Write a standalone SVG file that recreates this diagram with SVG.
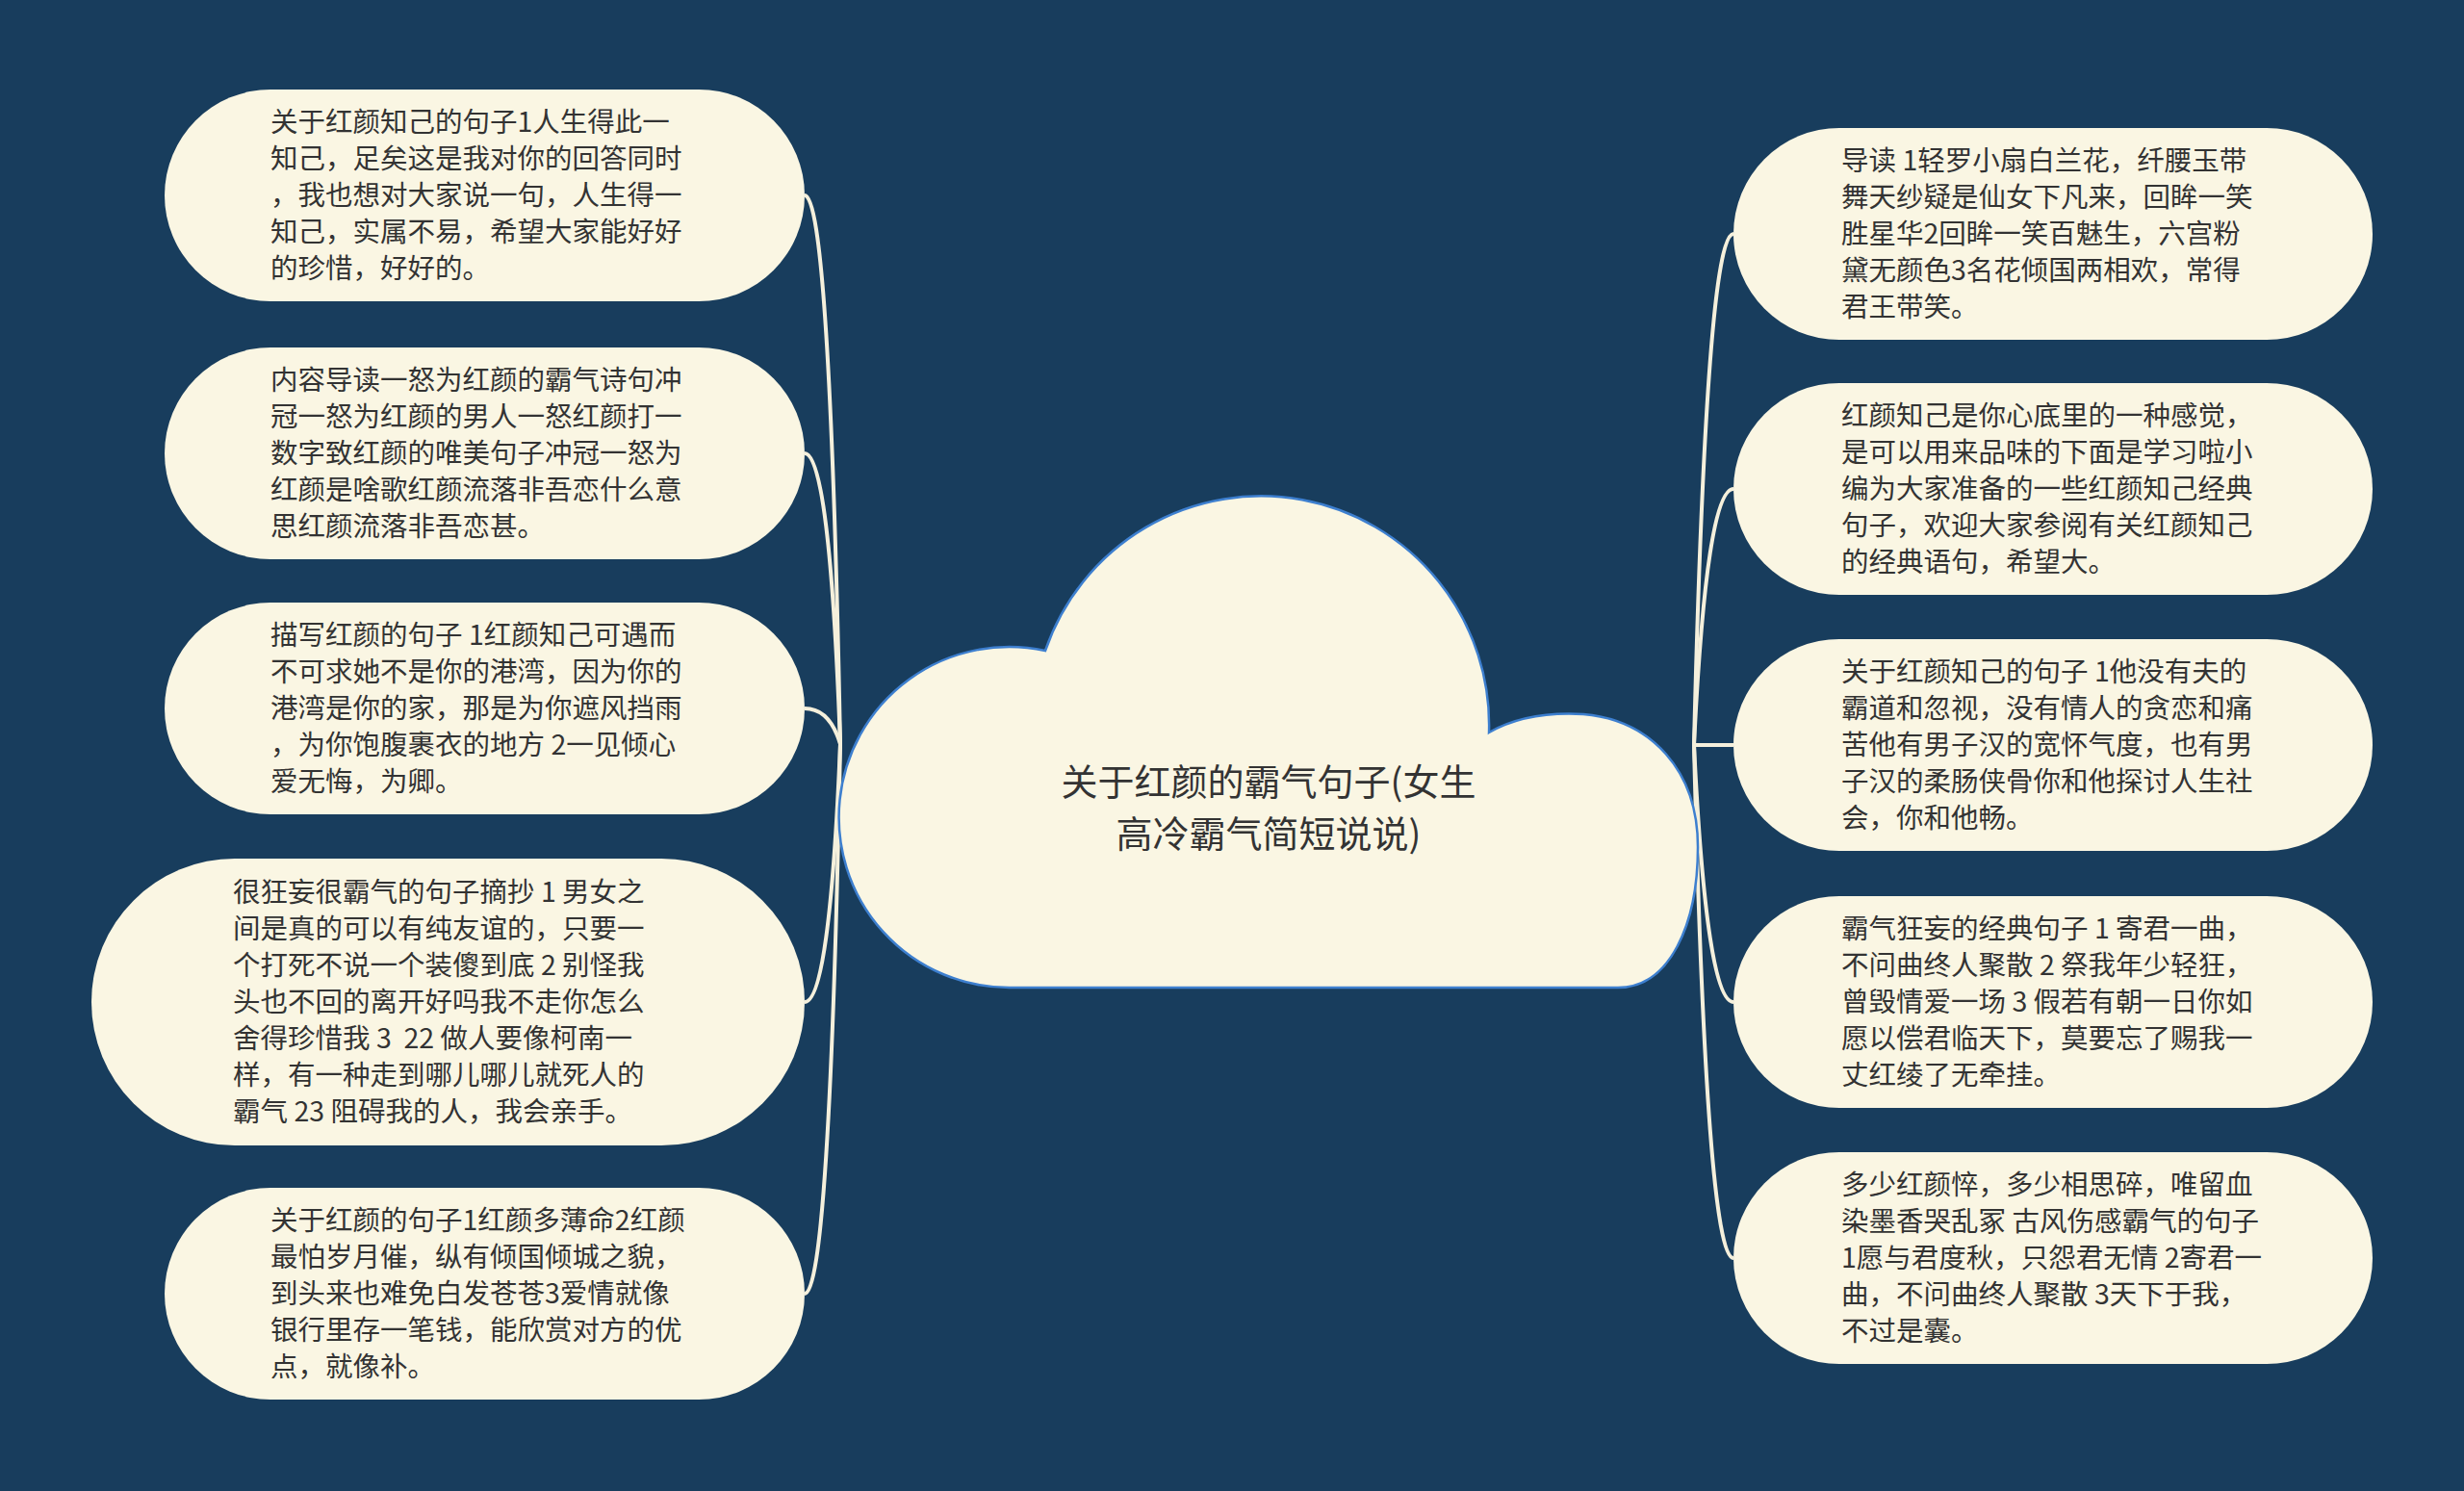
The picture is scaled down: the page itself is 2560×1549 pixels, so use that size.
<svg xmlns="http://www.w3.org/2000/svg" width="2560" height="1549" viewBox="0 0 2560 1549">
<style>
.bg{fill:#183d5d}
.bub{fill:#faf6e3}
.t{font-family:"Noto Sans CJK SC","Noto Sans",sans-serif;font-size:28.5px;fill:#333333;white-space:pre}
.ct{font-family:"Noto Sans CJK SC","Noto Sans",sans-serif;font-size:38px;fill:#333333;text-anchor:middle}
.cn{fill:none;stroke:#f5f0dc;stroke-width:4}
.cloud{fill:#faf6e3;stroke:#3d7fcf;stroke-width:2.5}
</style>
<rect class="bg" x="0" y="0" width="2560" height="1549"/>
<g id="connectors">
<path class="cn" d="M873,773 Q862,203 836,203"/>
<path class="cn" d="M873,773 Q862,471 836,471"/>
<path class="cn" d="M873,773 Q862,736 836,736"/>
<path class="cn" d="M873,773 Q862,1041 836,1041"/>
<path class="cn" d="M873,773 Q862,1344 836,1344"/>
<path class="cn" d="M1760,774 Q1773,243 1801,243"/>
<path class="cn" d="M1760,774 Q1773,508 1801,508"/>
<path class="cn" d="M1760,774 L1801,774"/>
<path class="cn" d="M1760,774 Q1773,1041 1801,1041"/>
<path class="cn" d="M1760,774 Q1773,1307 1801,1307"/>
</g>
<g id="root">
<path class="cloud" d="M1050,1026 A177 177 0 1 1 1086,676 A237 238 0 0 1 1547,761 C1575,745 1610,740 1645,742 C1715,748 1764,800 1764,880 C1764,960 1735,1026 1681,1026 Z"/>
<text class="ct" x="1318" y="826">关于红颜的霸气句子(女生</text>
<text class="ct" x="1318" y="880">高冷霸气简短说说)</text>
</g>
<g id="L1">
<rect class="bub" x="171" y="93" width="665" height="220" rx="110"/>
<text class="t" x="281" y="137">关于红颜知己的句子1人生得此一</text>
<text class="t" x="281" y="175">知己，足矣这是我对你的回答同时</text>
<text class="t" x="281" y="213">，我也想对大家说一句，人生得一</text>
<text class="t" x="281" y="251">知己，实属不易，希望大家能好好</text>
<text class="t" x="281" y="289">的珍惜，好好的。</text>
</g>
<g id="L2">
<rect class="bub" x="171" y="361" width="665" height="220" rx="110"/>
<text class="t" x="281" y="405">内容导读一怒为红颜的霸气诗句冲</text>
<text class="t" x="281" y="443">冠一怒为红颜的男人一怒红颜打一</text>
<text class="t" x="281" y="481">数字致红颜的唯美句子冲冠一怒为</text>
<text class="t" x="281" y="519">红颜是啥歌红颜流落非吾恋什么意</text>
<text class="t" x="281" y="557">思红颜流落非吾恋甚。</text>
</g>
<g id="L3">
<rect class="bub" x="171" y="626" width="665" height="220" rx="110"/>
<text class="t" x="281" y="670">描写红颜的句子 1红颜知己可遇而</text>
<text class="t" x="281" y="708">不可求她不是你的港湾，因为你的</text>
<text class="t" x="281" y="746">港湾是你的家，那是为你遮风挡雨</text>
<text class="t" x="281" y="784">，为你饱腹裹衣的地方 2一见倾心</text>
<text class="t" x="281" y="822">爱无悔，为卿。</text>
</g>
<g id="L4">
<rect class="bub" x="95" y="892" width="741" height="298" rx="149"/>
<text class="t" x="242" y="937">很狂妄很霸气的句子摘抄 1 男女之</text>
<text class="t" x="242" y="975">间是真的可以有纯友谊的，只要一</text>
<text class="t" x="242" y="1013">个打死不说一个装傻到底 2 别怪我</text>
<text class="t" x="242" y="1051">头也不回的离开好吗我不走你怎么</text>
<text class="t" x="242" y="1089">舍得珍惜我 3  22 做人要像柯南一</text>
<text class="t" x="242" y="1127">样，有一种走到哪儿哪儿就死人的</text>
<text class="t" x="242" y="1165">霸气 23 阻碍我的人，我会亲手。</text>
</g>
<g id="L5">
<rect class="bub" x="171" y="1234" width="665" height="220" rx="110"/>
<text class="t" x="281" y="1278">关于红颜的句子1红颜多薄命2红颜</text>
<text class="t" x="281" y="1316">最怕岁月催，纵有倾国倾城之貌，</text>
<text class="t" x="281" y="1354">到头来也难免白发苍苍3爱情就像</text>
<text class="t" x="281" y="1392">银行里存一笔钱，能欣赏对方的优</text>
<text class="t" x="281" y="1430">点，就像补。</text>
</g>
<g id="R1">
<rect class="bub" x="1801" y="133" width="664" height="220" rx="110"/>
<text class="t" x="1913" y="177">导读 1轻罗小扇白兰花，纤腰玉带</text>
<text class="t" x="1913" y="215">舞天纱疑是仙女下凡来，回眸一笑</text>
<text class="t" x="1913" y="253">胜星华2回眸一笑百魅生，六宫粉</text>
<text class="t" x="1913" y="291">黛无颜色3名花倾国两相欢，常得</text>
<text class="t" x="1913" y="329">君王带笑。</text>
</g>
<g id="R2">
<rect class="bub" x="1801" y="398" width="664" height="220" rx="110"/>
<text class="t" x="1913" y="442">红颜知己是你心底里的一种感觉，</text>
<text class="t" x="1913" y="480">是可以用来品味的下面是学习啦小</text>
<text class="t" x="1913" y="518">编为大家准备的一些红颜知己经典</text>
<text class="t" x="1913" y="556">句子，欢迎大家参阅有关红颜知己</text>
<text class="t" x="1913" y="594">的经典语句，希望大。</text>
</g>
<g id="R3">
<rect class="bub" x="1801" y="664" width="664" height="220" rx="110"/>
<text class="t" x="1913" y="708">关于红颜知己的句子 1他没有夫的</text>
<text class="t" x="1913" y="746">霸道和忽视，没有情人的贪恋和痛</text>
<text class="t" x="1913" y="784">苦他有男子汉的宽怀气度，也有男</text>
<text class="t" x="1913" y="822">子汉的柔肠侠骨你和他探讨人生社</text>
<text class="t" x="1913" y="860">会，你和他畅。</text>
</g>
<g id="R4">
<rect class="bub" x="1801" y="931" width="664" height="220" rx="110"/>
<text class="t" x="1913" y="975">霸气狂妄的经典句子 1 寄君一曲，</text>
<text class="t" x="1913" y="1013">不问曲终人聚散 2 祭我年少轻狂，</text>
<text class="t" x="1913" y="1051">曾毁情爱一场 3 假若有朝一日你如</text>
<text class="t" x="1913" y="1089">愿以偿君临天下，莫要忘了赐我一</text>
<text class="t" x="1913" y="1127">丈红绫了无牵挂。</text>
</g>
<g id="R5">
<rect class="bub" x="1801" y="1197" width="664" height="220" rx="110"/>
<text class="t" x="1913" y="1241">多少红颜悴，多少相思碎，唯留血</text>
<text class="t" x="1913" y="1279">染墨香哭乱冢 古风伤感霸气的句子</text>
<text class="t" x="1913" y="1317">1愿与君度秋，只怨君无情 2寄君一</text>
<text class="t" x="1913" y="1355">曲，不问曲终人聚散 3天下于我，</text>
<text class="t" x="1913" y="1393">不过是囊。</text>
</g>
</svg>
